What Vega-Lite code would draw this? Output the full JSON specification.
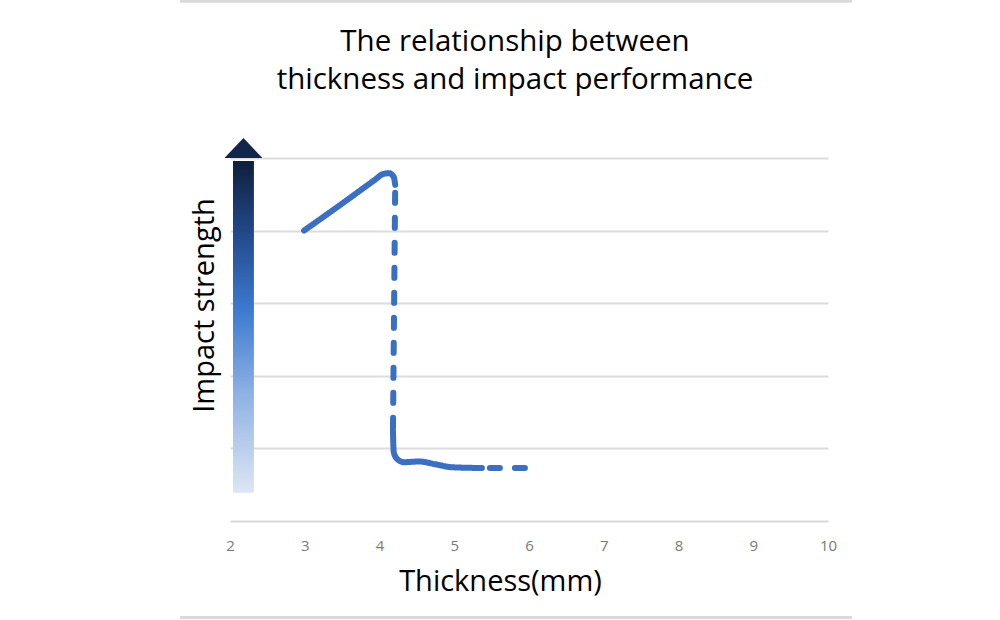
{
  "$schema": "https://vega.github.io/schema/vega-lite/v6.json",
  "autosize": "none",
  "width": 598,
  "height": 363,
  "padding": {"left": 230, "top": 158, "right": 172, "bottom": 99},
  "background": "white",
  "config": {"view": {"stroke": null}, "font": "Open Sans"},
  "title": {
    "text": ["The relationship between", "thickness and impact performance"],
    "fontSize": 29.5,
    "fontWeight": "normal",
    "font": "Open Sans",
    "color": "#000000",
    "anchor": "middle",
    "frame": "group",
    "dx": -14,
    "offset": -96,
    "lineHeight": 38
  },
  "layer": [
    {
      "data": {"values": [
        {"x": 1.33, "x2": 10.32, "y": 7.16},
        {"x": 1.33, "x2": 10.32, "y": -1.33}
      ]},
      "mark": {"type": "rule", "color": "#d9d9d9", "strokeWidth": 3, "clip": false},
      "encoding": {
        "x": {"field": "x", "type": "quantitative"},
        "x2": {"field": "x2"},
        "y": {"field": "y", "type": "quantitative"}
      }
    },
    {
      "data": {"values": [{"x": 2.04, "x2": 2.32, "y": 0.39, "y2": 4.96}]},
      "mark": {
        "type": "rect",
        "color": {
          "gradient": "linear", "x1": 0, "y1": 0, "x2": 0, "y2": 1,
          "stops": [
            {"offset": 0, "color": "#0f1f3d"},
            {"offset": 0.22, "color": "#23498a"},
            {"offset": 0.45, "color": "#3d7ad0"},
            {"offset": 0.7, "color": "#8db1e3"},
            {"offset": 1, "color": "#dde6f4"}
          ]
        }
      },
      "encoding": {
        "x": {"field": "x", "type": "quantitative"},
        "x2": {"field": "x2"},
        "y": {"field": "y", "type": "quantitative"},
        "y2": {"field": "y2"}
      }
    },
    {
      "data": {"values": [{"x": 2.18, "y": 5.13}]},
      "mark": {
        "type": "point",
        "filled": true,
        "color": "#13254a",
        "opacity": 1,
        "size": 1444,
        "shape": "M -1 0.5 L 1 0.5 L 0 -0.55 Z"
      },
      "encoding": {
        "x": {"field": "x", "type": "quantitative"},
        "y": {"field": "y", "type": "quantitative"}
      }
    },
    {
      "data": {"values": [
        {"i": 1, "seg": "a", "style": "solid", "x": 2.99, "y": 4.0},
        {"i": 2, "seg": "a", "style": "solid", "x": 3.47, "y": 4.35},
        {"i": 3, "seg": "a", "style": "solid", "x": 3.94, "y": 4.70},
        {"i": 4, "seg": "a", "style": "solid", "x": 4.05, "y": 4.78},
        {"i": 5, "seg": "a", "style": "solid", "x": 4.13, "y": 4.79},
        {"i": 6, "seg": "a", "style": "solid", "x": 4.19, "y": 4.74},
        {"i": 7, "seg": "a", "style": "solid", "x": 4.21, "y": 4.63},
        {"i": 8, "seg": "b", "style": "dashed", "x": 4.21, "y": 4.63},
        {"i": 9, "seg": "b", "style": "dashed", "x": 4.18, "y": 1.24},
        {"i": 10, "seg": "c", "style": "solid", "x": 4.18, "y": 1.24},
        {"i": 11, "seg": "c", "style": "solid", "x": 4.19, "y": 0.95},
        {"i": 12, "seg": "c", "style": "solid", "x": 4.24, "y": 0.85},
        {"i": 13, "seg": "c", "style": "solid", "x": 4.33, "y": 0.81},
        {"i": 14, "seg": "c", "style": "solid", "x": 4.53, "y": 0.82},
        {"i": 15, "seg": "c", "style": "solid", "x": 4.75, "y": 0.78},
        {"i": 16, "seg": "c", "style": "solid", "x": 4.97, "y": 0.74},
        {"i": 17, "seg": "c", "style": "solid", "x": 5.37, "y": 0.73},
        {"i": 18, "seg": "d", "style": "dashed", "x": 5.37, "y": 0.73},
        {"i": 19, "seg": "d", "style": "dashed", "x": 6.03, "y": 0.73}
      ]},
      "mark": {"type": "line", "color": "#3a6fc2", "strokeWidth": 6, "strokeCap": "round", "strokeJoin": "round", "strokeDashOffset": 17, "interpolate": "monotone"},
      "encoding": {
        "x": {
          "field": "x", "type": "quantitative",
          "scale": {"domain": [2, 10], "nice": false, "zero": false},
          "axis": {
            "values": [2, 3, 4, 5, 6, 7, 8, 9, 10],
            "format": "d",
            "grid": false,
            "ticks": false,
            "domain": true,
            "domainColor": "#d9d9d9",
            "domainWidth": 2,
            "labelColor": "#7a7a7a",
            "labelFontSize": 15,
            "labelFont": "Open Sans",
            "labelPadding": 17,
            "labelFlush": false,
            "title": "Thickness(mm)",
            "titleFont": "Open Sans",
            "titleFontSize": 29,
            "titleFontWeight": "normal",
            "titleColor": "#000000",
            "titleX": 270,
            "titleY": 69,
            "titleBaseline": "alphabetic"
          }
        },
        "y": {
          "field": "y", "type": "quantitative",
          "scale": {"domain": [0, 5], "nice": false, "zero": false},
          "axis": {
            "values": [1, 2, 3, 4, 5],
            "grid": true,
            "gridColor": "#dcdcdc",
            "gridWidth": 2,
            "ticks": false,
            "domain": false,
            "labels": false,
            "title": "Impact strength",
            "titleFont": "Open Sans",
            "titleFontSize": 29,
            "titleFontWeight": "normal",
            "titleColor": "#000000",
            "titleX": -11,
            "titleY": 147
          }
        },
        "detail": {"field": "seg"},
        "order": {"field": "i"},
        "strokeDash": {
          "field": "style", "type": "nominal",
          "scale": {"domain": ["solid", "dashed"], "range": [[1, 0], [10, 15]]},
          "legend": null
        }
      }
    }
  ]
}
